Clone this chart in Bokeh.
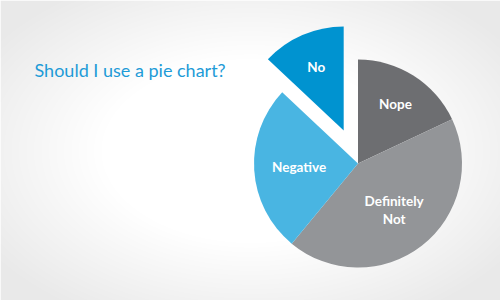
import numpy as np
from bokeh.plotting import figure
from bokeh.models import Range1d, ColumnDataSource, Label
from bokeh.core.properties import value
from bokeh.embed import file_html
from bokeh.resources import INLINE

# ---- data ----
categories = ["Nope", "Definitely Not", "Negative", "No"]
labels = ["Nope", "Definitely\nNot", "Negative", "No"]
values = [18, 43, 26, 13]
title_text = "Should I use a pie chart?"

# ---- styles ----
colors = ["#6d6e71", "#939598", "#49b5e2", "#0093d0"]
explode = [0, 0, 0, 36]
label_r = [70, 59, 59, 69]
R = 104
W, H = 500, 300
cx_px, cy_px = 357.5, 163  # pie center in pixels

p = figure(width=W, height=H, output_backend="svg", toolbar_location=None,
           x_axis_type=None, y_axis_type=None,
           x_range=Range1d(-cx_px, W - cx_px), y_range=Range1d(cy_px - H, cy_px),
           min_border=0, outline_line_color=None)
p.grid.visible = False
p.background_fill_color = "white"
p.border_fill_color = "white"

# subtle radial background (decoration)
yy, xx = np.mgrid[0:H, 0:W]
t = np.sqrt(((xx - 250) / 300.0) ** 2 + ((yy - 150) / 185.0) ** 2)
shade = 255 - 22 * np.clip((t - 0.5) / 0.55, 0, 1)
shade = shade[::-1].astype(np.uint8)
img = np.empty((H, W), dtype=np.uint32)
view = img.view(dtype=np.uint8).reshape((H, W, 4))
view[:, :, 0] = shade
view[:, :, 1] = shade
view[:, :, 2] = shade
view[:, :, 3] = 255
p.image_rgba(image=[img], x=-cx_px, y=cy_px - H, dw=W, dh=H)

vals = np.array(values, dtype=float)
frac = vals / vals.sum()
cum = np.concatenate([[0], np.cumsum(frac)])
start = np.pi / 2 - 2 * np.pi * cum[1:]
end = np.pi / 2 - 2 * np.pi * cum[:-1]
mid = (start + end) / 2
ex = np.array(explode, dtype=float)
xs = ex * np.cos(mid)
ys = ex * np.sin(mid)
lr = np.array(label_r, dtype=float)
lx = xs + lr * np.cos(mid)
ly = ys + lr * np.sin(mid)

src = ColumnDataSource(dict(x=xs, y=ys, start=start, end=end, color=colors,
                            lx=lx, ly=ly, label=labels, cat=categories))
p.wedge(x="x", y="y", radius=R, start_angle="start", end_angle="end",
        fill_color="color", line_color=None, source=src)
p.text(x="lx", y="ly", text="label", source=src, text_color="white",
       text_font=value("Lato"), text_font_style="bold", text_font_size="13.5px",
       text_align="center", text_baseline="middle", text_line_height=1.15)

title = Label(x=34 - cx_px, y=cy_px - 69, text=title_text, text_color="#1e9bd7",
              text_font="Lato", text_font_size="18px", text_baseline="middle",
              text_align="left")
p.add_layout(title)

open("out.html", "w").write(file_html(p, INLINE))
